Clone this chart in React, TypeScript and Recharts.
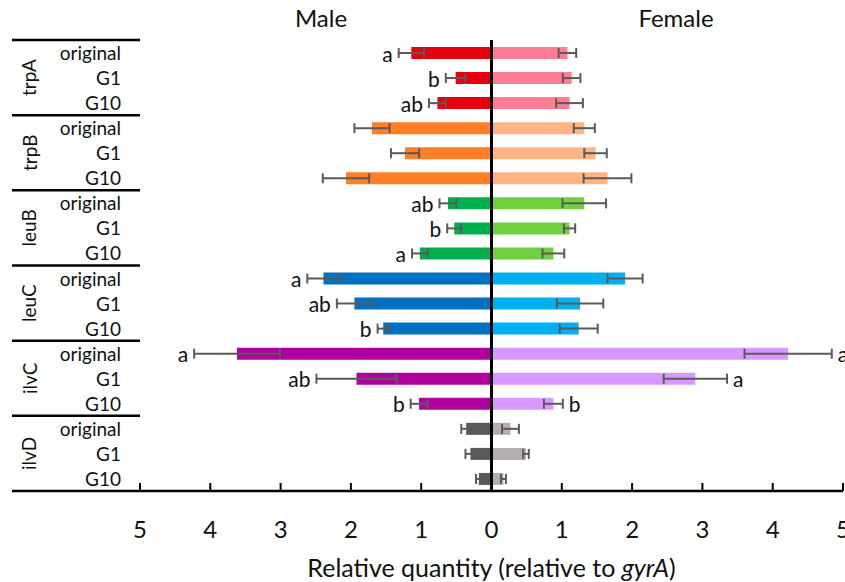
import React from 'react';
import { ComposedChart, Bar, XAxis, YAxis, ErrorBar, Cell, ReferenceLine, LabelList, Label } from 'recharts';

const genes = ['trpA', 'trpB', 'leuB', 'leuC', 'ilvC', 'ilvD'];
const conditions = ['original', 'G1', 'G10'];

const maleValues = [1.14, 0.51, 0.77, 1.7, 1.23, 2.07, 0.62, 0.53, 1.02, 2.39, 1.95, 1.54, 3.62, 1.92, 1.03, 0.36, 0.3, 0.18];
const maleErrors = [0.18, 0.14, 0.12, 0.25, 0.2, 0.33, 0.12, 0.1, 0.11, 0.23, 0.25, 0.08, 0.61, 0.57, 0.12, 0.07, 0.07, 0.04];
const femaleValues = [1.08, 1.14, 1.11, 1.32, 1.48, 1.65, 1.32, 1.11, 0.88, 1.9, 1.26, 1.24, 4.22, 2.9, 0.88, 0.27, 0.49, 0.17];
const femaleErrors = [0.125, 0.125, 0.19, 0.15, 0.16, 0.34, 0.31, 0.08, 0.155, 0.25, 0.33, 0.27, 0.62, 0.45, 0.135, 0.12, 0.04, 0.035];
const maleLetters = ['a', 'b', 'ab', '', '', '', 'ab', 'b', 'a', 'a', 'ab', 'b', 'a', 'ab', 'b', '', '', ''];
const femaleLetters = ['', '', '', '', '', '', '', '', '', '', '', '', 'a', 'a', 'b', '', '', ''];

const maleColors = ['#E8000F', '#FF7F27', '#00B04C', '#0070C0', '#B0009E', '#595959'];
const femaleColors = ['#FF7C95', '#FFB482', '#70D040', '#00B0F0', '#D998FF', '#B3ADAD'];

const xTicks = [-5, -4, -3, -2, -1, 0, 1, 2, 3, 4, 5];

const FONT = 'Lato, "Open Sans", sans-serif';

const data = genes.flatMap((g, gi) =>
  conditions.map((c, ci) => {
    const i = gi * 3 + ci;
    return {
      id: `${g}-${c}`,
      gene: g,
      cond: c,
      gi,
      ci,
      male: -maleValues[i],
      maleErr: maleErrors[i],
      female: femaleValues[i],
      femaleErr: femaleErrors[i],
      mLetter: maleLetters[i],
      fLetter: femaleLetters[i],
      mv: maleValues[i],
      fv: femaleValues[i],
    };
  })
);
const byId: Record<string, any> = {};
data.forEach((d) => (byId[d.id] = d));

const RowTick = (props: any) => {
  const { x, y, payload } = props;
  const row = byId[payload.value];
  if (!row) return null;
  const half = typeof payload.offset === 'number' && payload.offset > 0 ? payload.offset : 12.5;
  const left = x - 128;
  return (
    <g>
      <text x={x - 19} y={y} textAnchor="end" dominantBaseline="central" fontSize={19} fill="#111" fontFamily={FONT}>
        {row.cond}
      </text>
      {row.ci === 0 && <line x1={left} x2={x} y1={y - half} y2={y - half} stroke="#000" strokeWidth={2.5} />}
      {row.gi === genes.length - 1 && row.ci === 2 && (
        <line x1={left} x2={x} y1={y + half} y2={y + half} stroke="#000" strokeWidth={2.5} />
      )}
      {row.ci === 1 && (
        <text
          x={left + 17}
          y={y}
          transform={`rotate(-90 ${left + 17} ${y})`}
          textAnchor="middle"
          dominantBaseline="central"
          fontSize={19}
          fill="#111"
          fontFamily={FONT}
        >
          {row.gene}
        </text>
      )}
    </g>
  );
};

const XTick = (props: any) => {
  const { x, y, payload } = props;
  return (
    <g>
      <line x1={x} x2={x} y1={y} y2={y - 8} stroke="#000" strokeWidth={2} />
      <text x={x} y={y + 37} textAnchor="middle" dominantBaseline="central" fontSize={24} fill="#111" fontFamily={FONT}>
        {Math.abs(payload.value)}
      </text>
    </g>
  );
};

const AxisTitle = (props: any) => {
  const vb = props.viewBox || {};
  const cx = vb.x + vb.width / 2;
  return (
    <text x={cx} y={vb.y + 76} textAnchor="middle" dominantBaseline="central" fontSize={25} fill="#111" fontFamily={FONT}>
      <tspan>Relative quantity (relative to </tspan>
      <tspan fontStyle="italic">gyrA</tspan>
      <tspan>)</tspan>
    </text>
  );
};

const makeLetter = (side: 'm' | 'f') => (props: any) => {
  const { x, y, width, height, value } = props;
  const row = byId[value];
  if (!row) return null;
  const letter = side === 'm' ? row.mLetter : row.fLetter;
  if (!letter) return null;
  const v = side === 'm' ? row.mv : row.fv;
  const err = side === 'm' ? row.maleErr : row.femaleErr;
  const w = Math.abs(width);
  const pxPerUnit = w / v;
  const lo = Math.min(x, x + width);
  const hi = Math.max(x, x + width);
  const cy = y + height / 2;
  if (side === 'm') {
    const ex = lo - err * pxPerUnit - 6;
    return (
      <text x={ex} y={cy} textAnchor="end" dominantBaseline="central" fontSize={21} fill="#111" fontFamily={FONT}>
        {letter}
      </text>
    );
  }
  const ex = hi + err * pxPerUnit + 6;
  return (
    <text x={ex} y={cy} textAnchor="start" dominantBaseline="central" fontSize={21} fill="#111" fontFamily={FONT}>
      {letter}
    </text>
  );
};

export default function App() {
  return (
    <div style={{ position: 'absolute', left: 0, top: 0, width: 845, height: 582, background: '#fff', fontFamily: FONT }}>
      <div style={{ position: 'absolute', left: 261, top: 3, width: 120, textAlign: 'center', fontSize: 24, color: '#111' }}>Male</div>
      <div style={{ position: 'absolute', left: 616, top: 3, width: 120, textAlign: 'center', fontSize: 24, color: '#111' }}>Female</div>
      <ComposedChart
        width={845}
        height={582}
        data={data}
        layout="vertical"
        margin={{ top: 40, right: 2, bottom: 0, left: 12 }}
        barSize={12}
        barGap={-12}
        barCategoryGap={0}
      >
        <XAxis
          type="number"
          domain={[-5, 5]}
          ticks={xTicks}
          allowDataOverflow
          height={91}
          tickLine={false}
          tickSize={0}
          tickMargin={0}
          axisLine={{ stroke: '#000', strokeWidth: 2.5 }}
          tick={<XTick />}
          interval={0}
        >
          <Label content={<AxisTitle />} />
        </XAxis>
        <YAxis
          type="category"
          dataKey="id"
          width={128}
          tickLine={false}
          axisLine={false}
          tickSize={0}
          tickMargin={0}
          interval={0}
          tick={<RowTick />}
        />
        <Bar dataKey="male" isAnimationActive={false}>
          {data.map((d) => (
            <Cell key={d.id} fill={maleColors[d.gi]} />
          ))}
          <ErrorBar dataKey="maleErr" direction="x" width={5} stroke="#5a5a5a" strokeWidth={2} />
          <LabelList dataKey={(d: any) => d.id} content={makeLetter('m')} />
        </Bar>
        <Bar dataKey="female" isAnimationActive={false}>
          {data.map((d) => (
            <Cell key={d.id} fill={femaleColors[d.gi]} />
          ))}
          <ErrorBar dataKey="femaleErr" direction="x" width={5} stroke="#5a5a5a" strokeWidth={2} />
          <LabelList dataKey={(d: any) => d.id} content={makeLetter('f')} />
        </Bar>
        <ReferenceLine x={0} stroke="#000" strokeWidth={3} ifOverflow="visible" />
      </ComposedChart>
    </div>
  );
}
